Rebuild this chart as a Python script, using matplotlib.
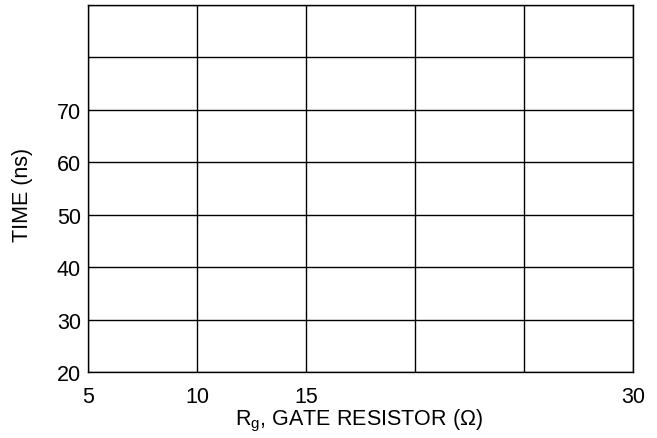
import matplotlib
matplotlib.use("Agg")
import matplotlib.pyplot as plt

plt.rcParams['font.family'] = ['Liberation Sans', 'DejaVu Sans']
plt.rcParams['mathtext.fontset'] = 'custom'
plt.rcParams['mathtext.rm'] = 'Liberation Sans'
plt.rcParams['mathtext.it'] = 'Liberation Sans'

# axis ranges and ticks (empty grid, no curves)
x_ticks = [5, 10, 15, 20, 25, 30]
x_labels = ["5", "10", "15", "", "", "30"]
y_ticks = [20, 30, 40, 50, 60, 70, 80, 90]
y_labels = ["20", "30", "40", "50", "60", "70", "", ""]

fig = plt.figure(figsize=(6.57, 4.39), dpi=100)
ax = fig.add_axes([88 / 657, 66 / 439, 545 / 657, 367 / 439])

ax.set_xlim(5, 30)
ax.set_ylim(20, 90)
ax.set_xticks(x_ticks)
ax.set_xticklabels(x_labels)
ax.set_yticks(y_ticks)
ax.set_yticklabels(y_labels)
ax.tick_params(length=0, labelsize=15.5)
ax.tick_params(axis="x", pad=10)
ax.tick_params(axis="y", pad=5)
ax.grid(True, color="black", linewidth=1)
for s in ax.spines.values():
    s.set_linewidth(1)
    s.set_color("black")

ax.set_xlabel(r"R$_\mathregular{g}$, GATE RESISTOR (Ω)", fontsize=15.5)
ax.set_ylabel("TIME (ns)", fontsize=15.5)
ax.xaxis.set_label_coords(0.498, -0.095)
ax.yaxis.set_label_coords(-0.101, 0.484)

fig.savefig("out.png", dpi=100)
